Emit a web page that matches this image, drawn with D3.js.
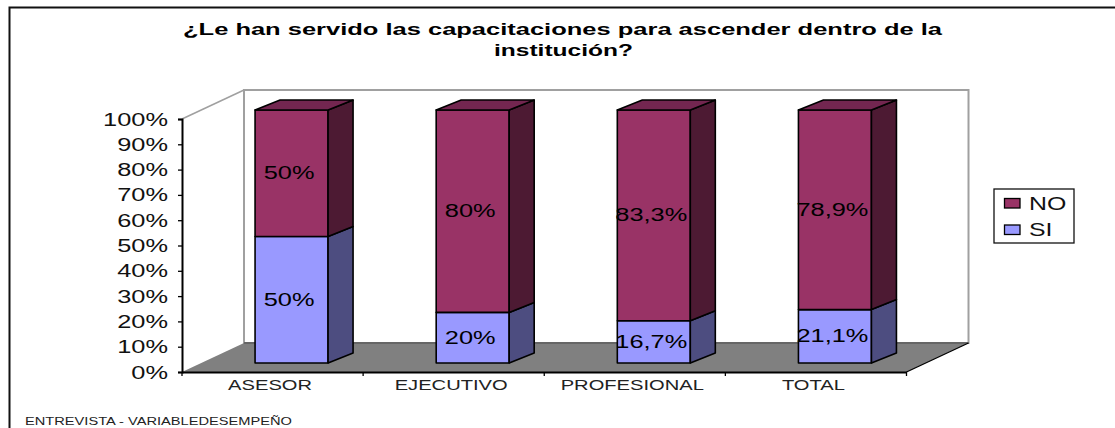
<!DOCTYPE html>
<html><head><meta charset="utf-8">
<script src="https://cdn.jsdelivr.net/npm/d3@7"></script>
<style>html,body{margin:0;padding:0;background:#fff}svg{display:block}text{font-family:"Liberation Sans",Arial,sans-serif;fill:#000}</style>
</head><body><svg id="c" width="1115" height="428"></svg>
<script>
const titleLines = ["¿Le han servido las capacitaciones para ascender dentro de la", "institución?"];
const footer = "ENTREVISTA - VARIABLEDESEMPEÑO";
const categories = ["ASESOR", "EJECUTIVO", "PROFESIONAL", "TOTAL"];
const si = [50, 20, 16.7, 21.1];
const no = [50, 80, 83.3, 78.9];
const yTicks = [0,10,20,30,40,50,60,70,80,90,100];

const COL = {no:"#993366",noSide:"#4d1a33",noTop:"#732650",si:"#9999ff",siSide:"#4d4d80"};
const svg = d3.select("#c");
const FS = 18, SX = 1.41;
const fmt = v => String(v).replace(".", ",") + "%";
const y = d3.scaleLinear().domain([0,100]).range([372,119]);
const x = d3.scaleBand().domain(categories).range([182,906.5]);

// frame
svg.append("path").attr("d","M9.5 428V7.5H1115").attr("fill","none").attr("stroke","#111").attr("stroke-width",2);

// title & footer
[[titleLines[0],562.5,35,759],[titleLines[1],563.5,56,139]].forEach(([t,cx,by,w])=>{
  svg.append("text").attr("x",cx).attr("y",by).attr("text-anchor","middle").attr("font-size",16.5).attr("font-weight","bold")
    .attr("textLength",w).attr("lengthAdjust","spacingAndGlyphs").text(t);
});
svg.append("text").attr("x",25).attr("y",425).attr("font-size",11).attr("textLength",267).attr("lengthAdjust","spacingAndGlyphs").style("fill","#222").text(footer);

// 3D box
const depthX = 62, depthY = 29;
const y0 = y(0), y1 = y(100), xL = x.range()[0], xR = x.range()[1];
svg.append("rect").attr("x",xL+depthX).attr("y",y1-depthY).attr("width",xR-xL).attr("height",y0-y1).attr("fill","#fff").attr("stroke","#a0a0a0").attr("stroke-width",2);
svg.append("line").attr("x1",xL).attr("y1",y1).attr("x2",xL+depthX).attr("y2",y1-depthY).attr("stroke","#a0a0a0").attr("stroke-width",1.5);
svg.append("path").attr("d",d3.line()([[xL,y0],[xL+depthX,y0-depthY],[xR+depthX,y0-depthY],[xR,y0]])+"Z").attr("fill","#808080");
svg.append("line").attr("x1",xL+depthX).attr("y1",y0-depthY).attr("x2",xR+depthX).attr("y2",y0-depthY).attr("stroke","#666").attr("stroke-width",2);
svg.append("line").attr("x1",xR).attr("y1",y0).attr("x2",xR+depthX).attr("y2",y0-depthY).attr("stroke","#000").attr("stroke-width",1.3);

// bars
const barW = 73, offX = 19, offY = 9, sideX = 25, sideY = 10;
const line = d3.line();
function box(g, cx, a, b, c, side, top){
  const l = cx-barW/2, r = cx+barW/2, ya = y(a)-offY, yb = y(b)-offY;
  const s = e => e.attr("stroke","#000").attr("stroke-width",1.6).attr("stroke-linejoin","round");
  g.append("rect").attr("x",l).attr("y",yb).attr("width",barW).attr("height",ya-yb).attr("fill",c).call(s);
  g.append("path").attr("d",line([[r,ya],[r+sideX,ya-sideY],[r+sideX,yb-sideY],[r,yb]])+"Z").attr("fill",side).call(s);
  if(top) g.append("path").attr("d",line([[l,yb],[l+sideX,yb-sideY],[r+sideX,yb-sideY],[r,yb]])+"Z").attr("fill",top).call(s);
}
const bars = svg.append("g");
categories.forEach((cat,i)=>{
  const cx = x(cat)+x.bandwidth()/2+offX;
  box(bars,cx,0,si[i],COL.si,COL.siSide,null);
  box(bars,cx,si[i],si[i]+no[i],COL.no,COL.noSide,COL.noTop);
  [[si[i]/2,si[i]],[si[i]+no[i]/2,no[i]]].forEach(([mid,v])=>{
    bars.append("text").attr("text-anchor","middle").attr("font-size",FS)
      .attr("transform",`translate(${cx-2.5},${y(mid)-offY+6}) scale(${SX},1)`).text(fmt(v));
  });
});

// axes
const ax = svg.append("g").attr("transform",`translate(${xL},0)`)
  .call(d3.axisLeft(y).tickValues(yTicks).tickFormat(d=>d+"%").tickSize(4).tickPadding(0));
ax.selectAll("path,line").attr("stroke","#000");
ax.select("path").attr("stroke-width",2);
ax.selectAll("line").attr("stroke-width",1.3);
ax.selectAll("text").attr("x",0).attr("dy",null).style("font-size",FS+"px").style("font-family",'"Liberation Sans",Arial,sans-serif')
  .attr("text-anchor","end").attr("y",6).style("fill","#111").attr("transform",`translate(-14,0) scale(${SX},1)`);

const bx = svg.append("g").attr("transform",`translate(0,${y0})`)
  .call(d3.axisBottom(x).tickSize(0).tickPadding(0));
bx.select("path").attr("stroke","#000").attr("stroke-width",2);
bx.selectAll("text").attr("x",0).attr("y",18).attr("dy",null).style("font-size","14px").style("font-family",'"Liberation Sans",Arial,sans-serif')
  .attr("text-anchor","middle").style("fill","#222").attr("transform",`translate(-2.5,0) scale(1.44,1)`);
// category boundary ticks
const edges = categories.map(c=>x(c)).concat([xR]);
bx.selectAll("line.edge").data(edges).join("line").attr("class","edge").attr("x1",d=>d).attr("x2",d=>d).attr("y1",0).attr("y2",4).attr("stroke","#000").attr("stroke-width",1.3);

// legend
const lg = svg.append("g");
lg.append("rect").attr("x",994).attr("y",189).attr("width",80).attr("height",54).attr("fill","#fff").attr("stroke","#111").attr("stroke-width",1.3);
[["NO",COL.no,198.5],["SI",COL.si,225]].forEach(([t,c,ty])=>{
  lg.append("rect").attr("x",1004.5).attr("y",ty).attr("width",15.5).attr("height",9.5).attr("fill",c).attr("stroke","#000").attr("stroke-width",1.3);
  lg.append("text").attr("font-size",FS).style("fill","#111").attr("transform",`translate(1029,${ty+11}) scale(1.38,1)`).text(t);
});
</script></body></html>
